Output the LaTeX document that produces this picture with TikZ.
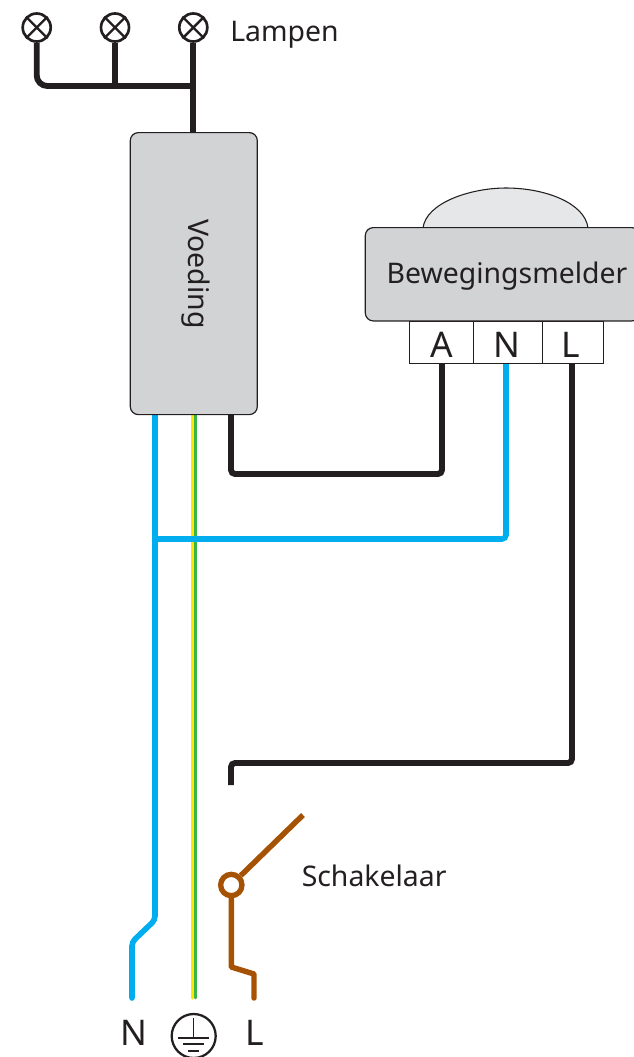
\documentclass[tikz,border=0pt]{standalone}
\usepackage{fontspec}
\usetikzlibrary{backgrounds}
\setmainfont{Noto Sans}
\definecolor{ink}{HTML}{231F20}
\definecolor{boxgrey}{HTML}{D1D3D4}
\definecolor{domegrey}{HTML}{E6E7E8}
\definecolor{wireblue}{HTML}{00AEEF}
\definecolor{wirebrown}{HTML}{A65205}
\definecolor{wireyellow}{HTML}{FFE600}
\definecolor{wiregreen}{HTML}{39B54A}
\newcommand{\fsA}{\fontsize{21.3pt}{24pt}\selectfont}
\newcommand{\fsB}{\fontsize{26.5pt}{30pt}\selectfont}
\tikzset{
  x=0.75pt,y=-0.75pt,
  greybox/.style={draw=ink,fill=boxgrey,line width=0.9pt,rounded corners=6pt,inner sep=0pt,anchor=north west},
  blackwire/.style={draw=ink,line width=4.4pt,rounded corners=3pt},
  bluewire/.style={draw=wireblue,line width=4.2pt,rounded corners=3pt},
  brownwire/.style={draw=wirebrown,line width=4.1pt},
  lampsym/.style={circle,draw=ink,line width=2pt,minimum size=21pt,inner sep=0pt},
  termbox/.style={draw=ink,fill=white,line width=0.8pt,minimum height=31.5pt,inner sep=0pt,anchor=north west},
  lbl/.style={text=ink,inner sep=0pt,anchor=base},
}
\begin{document}
\begin{tikzpicture}
\clip (0,0) rectangle (634,1057);
% free ends
\coordinate (nend) at (132,998);
\coordinate (lend) at (254,998);
\coordinate (swfree) at (231,785);
\coordinate (armtip) at (303,815);

% boxes
\draw[draw=ink,fill=domegrey,line width=0.8pt] (423,228) .. controls (426,203) and (470,188) .. (506,188) .. controls (545,188) and (585,203) .. (588,228);
\node[greybox,minimum width=95.25pt,minimum height=211.5pt] (psu) at (129.7,132) {};
\node[greybox,minimum width=206pt,minimum height=70pt] (pir) at (364.7,227) {};
\node[termbox,minimum width=48pt] (ta) at (409,320.5) {};
\node[termbox,minimum width=51.75pt] (tn) at (473,320.5) {};
\node[termbox,minimum width=45.75pt] (tl) at (542,320.5) {};

% lamps
\foreach \n/\x in {la/36.7,lb/115,lc/193.3}{
  \node[lampsym] (\n) at (\x,27.5) {};
  \draw[ink,line width=1.8pt] (\n.45)--(\n.225) (\n.135)--(\n.315);
}

% switch
\node[circle,draw=wirebrown,fill=white,line width=4pt,minimum size=16pt,inner sep=0pt] (swc) at (231.3,885) {};

\begin{pgfonlayer}{background}
% black wiring
\coordinate (busend) at (193,86);
\draw[blackwire,rounded corners=8pt] (la.south) -- (36.7,86) -- (busend);
\draw[blackwire] (lb.south) -- (115,86);
\draw[blackwire] (lc.south) -- (193.3,135);
\draw[blackwire] (231,410) -- (231,474) -- (442,474) -- (442,358);
\draw[blackwire] (572,358) -- (572,763) -- (231,763) -- (swfree);

% earth wire
\draw[wireyellow,line width=2.25pt,line cap=round] (192.5,410) -- (192.5,998);
\draw[wiregreen,line width=2pt,line cap=round] (195.2,410) -- (195.2,998);

% blue wiring
\draw[bluewire,line cap=round] (155,410) -- (155,920) -- (132,942) -- (nend);
\coordinate (bluejoin) at (155,539);
\draw[bluewire] (bluejoin) -- (506,539) -- (506,358);

% switch wiring
\draw[brownwire,line join=round,line cap=round] (swc.south) -- (231.3,967) -- (254,974) -- (lend);
\draw[brownwire] (swc.45) -- (armtip);
\end{pgfonlayer}

% labels
\node[lbl,anchor=base west,font=\fsA] (t1) at (230,41) {Lampen};
\node[lbl,rotate=-90,font=\fsA] (t2) at (188,274) {Voeding};
\node[lbl,font=\fsA] (t3) at (507,283) {Bewegingsmelder};
\node[lbl,font=\fsB] (t4) at (442,357) {A};
\node[lbl,font=\fsB] (t5) at (507,357) {N};
\node[lbl,font=\fsB] (t6) at (571,357) {L};
\node[lbl,anchor=base west,font=\fsA] (t7) at (301.5,886) {Schakelaar};
\node[lbl,font=\fsB] (t8) at (134,1045) {N};
\node[lbl,font=\fsB] (t9) at (255,1045) {L};

% earth symbol
\node[circle,draw=ink,line width=1.7pt,minimum size=33pt,inner sep=0pt] (earth) at (193.7,1036) {};
\draw[ink,line width=1.3pt] (193.5,1018)--(193.5,1037.7) (178,1037.7)--(209,1037.7) (183,1044)--(204,1044);
\draw[ink,line width=1.6pt] (188,1050.7)--(199,1050.7);
\end{tikzpicture}
\end{document}
